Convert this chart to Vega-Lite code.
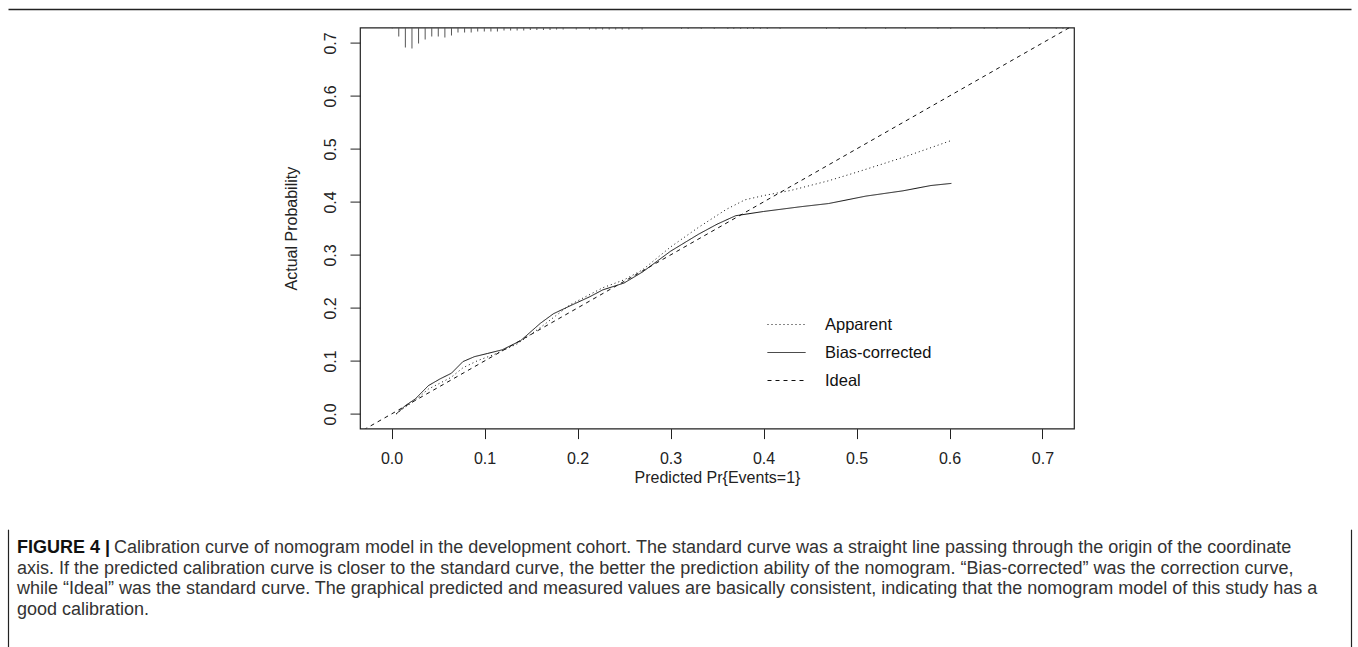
{
  "$schema": "https://vega.github.io/schema/vega-lite/v6.json",
  "background": "white",
  "padding": {"left": 8, "top": 9, "right": 7, "bottom": 0},
  "spacing": 16.6,
  "config": {
    "font": "Liberation Sans",
    "axis": {"domain": false, "grid": false, "tickColor": "#222", "tickSize": 10, "tickWidth": 1,
      "labelFont": "Liberation Sans", "labelFontSize": 16, "labelColor": "#222",
      "titleFont": "Liberation Sans", "titleFontSize": 16, "titleFontWeight": "normal", "titleColor": "#222"}
  },
  "vconcat": [
    {
      "width": 1343, "height": 1,
      "view": {"stroke": null},
      "data": {"values": [{"v": 0}]},
      "mark": {"type": "point", "opacity": 0, "size": 0},
      "encoding": {
        "x": {"field": "v", "type": "quantitative", "scale": {"domain": [0, 1]},
          "axis": {"orient": "top", "domain": true, "domainColor": "#222", "domainWidth": 1.5, "ticks": false, "labels": false, "title": null}}
      }
    },
    {
      "spacing": 0,
      "hconcat": [
        {
          "width": 274, "height": 401,
          "view": {"stroke": null},
          "data": {"values": [{"v": 0}]},
          "mark": {"type": "point", "opacity": 0, "size": 0},
          "encoding": {}
        },
        {
          "width": 714, "height": 401,
          "view": {"stroke": "#222", "strokeWidth": 1.2},
          "layer": [
            {
              "data": {"values": [
                {"series": "Apparent", "x": 0.005, "y": 0.0},
                {"series": "Apparent", "x": 0.0148, "y": 0.013},
                {"series": "Apparent", "x": 0.0255, "y": 0.026},
                {"series": "Apparent", "x": 0.0396, "y": 0.047},
                {"series": "Apparent", "x": 0.052, "y": 0.058},
                {"series": "Apparent", "x": 0.064, "y": 0.069},
                {"series": "Apparent", "x": 0.0767, "y": 0.087},
                {"series": "Apparent", "x": 0.0926, "y": 0.1006},
                {"series": "Apparent", "x": 0.11, "y": 0.112},
                {"series": "Apparent", "x": 0.135, "y": 0.132},
                {"series": "Apparent", "x": 0.16, "y": 0.163},
                {"series": "Apparent", "x": 0.192, "y": 0.206},
                {"series": "Apparent", "x": 0.227, "y": 0.238},
                {"series": "Apparent", "x": 0.25, "y": 0.253},
                {"series": "Apparent", "x": 0.27, "y": 0.272},
                {"series": "Apparent", "x": 0.30, "y": 0.315},
                {"series": "Apparent", "x": 0.33, "y": 0.352},
                {"series": "Apparent", "x": 0.36, "y": 0.386},
                {"series": "Apparent", "x": 0.38, "y": 0.404},
                {"series": "Apparent", "x": 0.40, "y": 0.412},
                {"series": "Apparent", "x": 0.43, "y": 0.422},
                {"series": "Apparent", "x": 0.47, "y": 0.44},
                {"series": "Apparent", "x": 0.50, "y": 0.456},
                {"series": "Apparent", "x": 0.55, "y": 0.484},
                {"series": "Apparent", "x": 0.602, "y": 0.516},
                {"series": "Bias-corrected", "x": 0.005, "y": 0.0},
                {"series": "Bias-corrected", "x": 0.0148, "y": 0.0157},
                {"series": "Bias-corrected", "x": 0.0255, "y": 0.0283},
                {"series": "Bias-corrected", "x": 0.0396, "y": 0.0534},
                {"series": "Bias-corrected", "x": 0.052, "y": 0.066},
                {"series": "Bias-corrected", "x": 0.0643, "y": 0.0767},
                {"series": "Bias-corrected", "x": 0.0767, "y": 0.0987},
                {"series": "Bias-corrected", "x": 0.089, "y": 0.108},
                {"series": "Bias-corrected", "x": 0.103, "y": 0.114},
                {"series": "Bias-corrected", "x": 0.119, "y": 0.121},
                {"series": "Bias-corrected", "x": 0.1386, "y": 0.138},
                {"series": "Bias-corrected", "x": 0.149, "y": 0.154},
                {"series": "Bias-corrected", "x": 0.16, "y": 0.171},
                {"series": "Bias-corrected", "x": 0.174, "y": 0.189},
                {"series": "Bias-corrected", "x": 0.192, "y": 0.204},
                {"series": "Bias-corrected", "x": 0.213, "y": 0.221},
                {"series": "Bias-corrected", "x": 0.227, "y": 0.234},
                {"series": "Bias-corrected", "x": 0.25, "y": 0.247},
                {"series": "Bias-corrected", "x": 0.27, "y": 0.268},
                {"series": "Bias-corrected", "x": 0.30, "y": 0.307},
                {"series": "Bias-corrected", "x": 0.33, "y": 0.339},
                {"series": "Bias-corrected", "x": 0.35, "y": 0.358},
                {"series": "Bias-corrected", "x": 0.37, "y": 0.374},
                {"series": "Bias-corrected", "x": 0.40, "y": 0.382},
                {"series": "Bias-corrected", "x": 0.44, "y": 0.391},
                {"series": "Bias-corrected", "x": 0.47, "y": 0.397},
                {"series": "Bias-corrected", "x": 0.51, "y": 0.411},
                {"series": "Bias-corrected", "x": 0.55, "y": 0.421},
                {"series": "Bias-corrected", "x": 0.58, "y": 0.431},
                {"series": "Bias-corrected", "x": 0.602, "y": 0.435},
                {"series": "Ideal", "x": -0.03, "y": -0.03},
                {"series": "Ideal", "x": 0.73, "y": 0.73}
              ]},
              "mark": {"type": "line", "color": "#111", "strokeWidth": 1, "clip": true},
              "encoding": {
                "x": {"field": "x", "type": "quantitative",
                  "scale": {"domain": [-0.0286, 0.7285], "nice": false, "zero": false},
                  "axis": {"values": [0, 0.1, 0.2, 0.3, 0.4, 0.5, 0.6, 0.7], "format": ".1f", "labelPadding": 12, "titlePadding": 3, "title": "Predicted Pr{Events=1}"}},
                "y": {"field": "y", "type": "quantitative",
                  "scale": {"domain": [-0.0277, 0.729], "nice": false, "zero": false},
                  "axis": {"values": [0, 0.1, 0.2, 0.3, 0.4, 0.5, 0.6, 0.7], "format": ".1f", "labelAngle": -90, "labelPadding": 12, "titlePadding": 23, "title": "Actual Probability"}},
                "strokeDash": {"field": "series", "type": "nominal",
                  "scale": {"domain": ["Apparent", "Bias-corrected", "Ideal"], "range": [[1, 3], [1, 0], [4, 4]]},
                  "legend": {"orient": "none", "legendX": 759, "legendY": 296, "title": null, "padding": 0,
                    "symbolType": "stroke", "symbolSize": 1444, "symbolStrokeWidth": 1, "symbolStrokeColor": "#111",
                    "labelFont": "Liberation Sans", "labelFontSize": 16.5, "labelColor": "#111", "labelOffset": 19, "rowPadding": -8.5}}
              }
            },
            {
              "data": {"values": [
                {"x": 0.0007, "len": 1}, {"x": 0.0077, "len": 9}, {"x": 0.0148, "len": 20}, {"x": 0.0219, "len": 21},
                {"x": 0.029, "len": 16}, {"x": 0.0361, "len": 12}, {"x": 0.0432, "len": 9}, {"x": 0.0502, "len": 9},
                {"x": 0.0573, "len": 10}, {"x": 0.0644, "len": 8}, {"x": 0.0714, "len": 5}, {"x": 0.0785, "len": 5},
                {"x": 0.0856, "len": 5}, {"x": 0.0926, "len": 4}, {"x": 0.0997, "len": 4}, {"x": 0.1068, "len": 4},
                {"x": 0.1138, "len": 4}, {"x": 0.1209, "len": 3}, {"x": 0.128, "len": 3}, {"x": 0.135, "len": 3},
                {"x": 0.1421, "len": 3}, {"x": 0.1492, "len": 2.5}, {"x": 0.1562, "len": 2.5}, {"x": 0.1633, "len": 2.5},
                {"x": 0.1704, "len": 2.5}, {"x": 0.1774, "len": 2}, {"x": 0.1845, "len": 2}, {"x": 0.1986, "len": 2},
                {"x": 0.2128, "len": 2}, {"x": 0.2198, "len": 2}, {"x": 0.2269, "len": 2}, {"x": 0.234, "len": 2},
                {"x": 0.241, "len": 2}, {"x": 0.248, "len": 2}, {"x": 0.2552, "len": 2}, {"x": 0.2694, "len": 2},
                {"x": 0.3118, "len": 1.5}, {"x": 0.3189, "len": 1.5}, {"x": 0.333, "len": 1.5}, {"x": 0.347, "len": 1.5},
                {"x": 0.3616, "len": 1.5}, {"x": 0.368, "len": 1.5}, {"x": 0.3754, "len": 1.5}, {"x": 0.3828, "len": 1.5},
                {"x": 0.3892, "len": 1.5}, {"x": 0.3966, "len": 1.5}, {"x": 0.404, "len": 1.5}, {"x": 0.4178, "len": 1.5},
                {"x": 0.4677, "len": 1.5}, {"x": 0.4814, "len": 1.5}, {"x": 0.51, "len": 1.5}, {"x": 0.5313, "len": 1.5},
                {"x": 0.5525, "len": 1.5}, {"x": 0.5875, "len": 1.5}, {"x": 0.6013, "len": 1.5}, {"x": 0.6373, "len": 1.5},
                {"x": 0.651, "len": 1.5}, {"x": 0.686, "len": 1.5}, {"x": 0.7148, "len": 1.5}, {"x": 0.722, "len": 1.5}
              ]},
              "mark": {"type": "bar", "color": "#555", "size": 1, "orient": "vertical"},
              "encoding": {
                "x": {"field": "x", "type": "quantitative"},
                "y": {"field": "len", "type": "quantitative", "scale": {"domain": [0, 25], "range": [0, 25], "zero": true, "nice": false}, "axis": null}
              }
            }
          ],
          "resolve": {"scale": {"y": "independent"}}
        }
      ]
    },
    {
      "width": 1343, "height": 145,
      "view": {"stroke": null},
      "data": {"values": [
        {"line": 1, "lead": "FIGURE 4 |", "text": "Calibration curve of nomogram model in the development cohort. The standard curve was a straight line passing through the origin of the coordinate"},
        {"line": 2, "lead": "", "text": "axis. If the predicted calibration curve is closer to the standard curve, the better the prediction ability of the nomogram. “Bias-corrected” was the correction curve,"},
        {"line": 3, "lead": "", "text": "while “Ideal” was the standard curve. The graphical predicted and measured values are basically consistent, indicating that the nomogram model of this study has a"},
        {"line": 4, "lead": "", "text": "good calibration."}
      ]},
      "layer": [
        {
          "transform": [{"filter": "datum.line == 1"}],
          "mark": {"type": "text", "align": "left", "baseline": "middle", "dx": 9, "font": "Liberation Sans", "fontSize": 18, "fontWeight": "bold", "color": "#111"},
          "encoding": {
            "x": {"datum": 0, "type": "quantitative", "scale": {"domain": [0, 1]}, "axis": null},
            "y": {"field": "line", "type": "quantitative", "scale": {"domain": [0.07, 5.875], "range": [26, 145], "nice": false, "zero": false},
              "axis": {"orient": "left", "domain": true, "domainColor": "#222", "domainWidth": 1.2, "ticks": false, "labels": false, "title": null}},
            "text": {"field": "lead"}
          }
        },
        {
          "transform": [{"filter": "datum.line == 1"}],
          "mark": {"type": "text", "align": "left", "baseline": "middle", "dx": 106, "font": "Liberation Sans", "fontSize": 18, "color": "#333"},
          "encoding": {
            "x": {"datum": 0, "type": "quantitative", "axis": null},
            "y": {"field": "line", "type": "quantitative", "axis": null},
            "text": {"field": "text"}
          }
        },
        {
          "transform": [{"filter": "datum.line > 1"}],
          "mark": {"type": "text", "align": "left", "baseline": "middle", "dx": 9, "font": "Liberation Sans", "fontSize": 18, "color": "#333"},
          "encoding": {
            "x": {"datum": 0, "type": "quantitative", "axis": null},
            "y": {"field": "line", "type": "quantitative",
              "axis": {"orient": "right", "domain": true, "domainColor": "#222", "domainWidth": 1.2, "ticks": false, "labels": false, "title": null}},
            "text": {"field": "text"}
          }
        }
      ],
      "resolve": {"axis": {"y": "independent"}}
    }
  ]
}
